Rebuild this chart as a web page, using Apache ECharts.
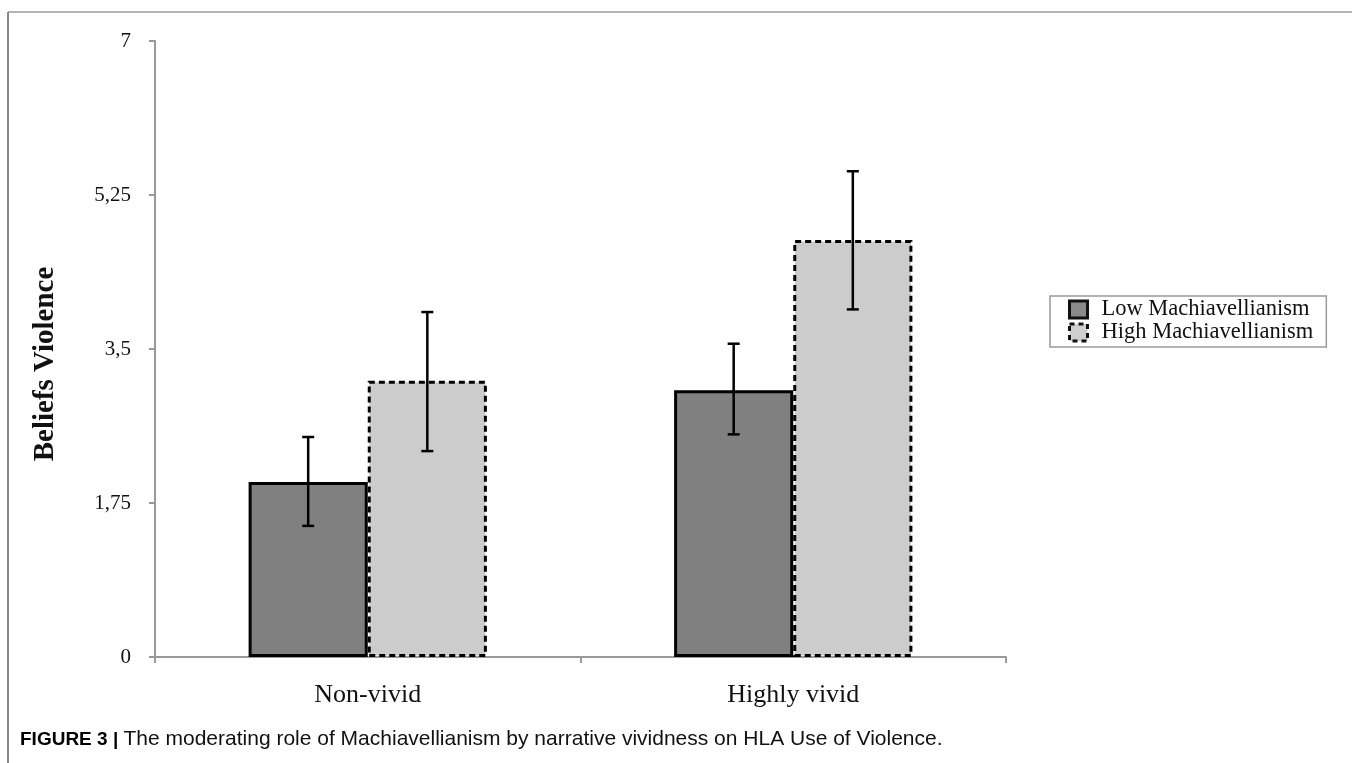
<!DOCTYPE html>
<html>
<head>
<meta charset="utf-8">
<script src="https://cdn.jsdelivr.net/npm/echarts@6/dist/echarts.min.js"></script>
<style>
html,body{margin:0;padding:0;background:#fff;}
#chart{width:1352px;height:763px;}
</style>
</head>
<body>
<div id="chart"></div>
<script>
const categories = ['Non-vivid', 'Highly vivid'];
const seriesNames = ['Low Machiavellianism', 'High Machiavellianism'];
const lowMach = [1.99, 3.03];
const highMach = [3.14, 4.74];
const lowMachErr = [[1.49, 2.50], [2.53, 3.56]];
const highMachErr = [[2.34, 3.92], [3.95, 5.52]];
const yTicks = [0, 1.75, 3.5, 5.25, 7];
const yTitle = 'Beliefs Violence';
const captionBold = 'FIGURE 3 | ';
const captionText = 'The moderating role of Machiavellianism by narrative vividness on HLA Use of Violence.';

const serif = '"Liberation Serif", "Times New Roman", serif';
const sans = '"Liberation Sans", Arial, sans-serif';
const GAP = 0.44;

function errSeries(errs, idx) {
  return {
    type: 'custom',
    name: seriesNames[idx] + ' err',
    silent: true,
    z: 10,
    data: errs.map((e, i) => [i, e[0], e[1]]),
    renderItem: function (params, api) {
      const band = api.size([1, 0])[0];
      const bw = band * (1 - GAP) / 2;
      const off = (idx === 0 ? -1 : 1) * bw / 2;
      const lo = api.coord([api.value(0), api.value(1)]);
      const hi = api.coord([api.value(0), api.value(2)]);
      const x = lo[0] + off;
      const cap = 6;
      const st = { stroke: '#000', lineWidth: 2.5 };
      return {
        type: 'group',
        children: [
          { type: 'line', shape: { x1: x, y1: lo[1], x2: x, y2: hi[1] }, style: st },
          { type: 'line', shape: { x1: x - cap, y1: lo[1], x2: x + cap, y2: lo[1] }, style: st },
          { type: 'line', shape: { x1: x - cap, y1: hi[1], x2: x + cap, y2: hi[1] }, style: st }
        ]
      };
    }
  };
}

const chart = echarts.init(document.getElementById('chart'));
chart.setOption({
  backgroundColor: '#fff',
  animation: false,
  grid: { left: 155, right: 346, top: 41, bottom: 106, containLabel: false },
  xAxis: {
    type: 'category',
    data: categories,
    axisLine: { lineStyle: { color: '#999', width: 2 } },
    axisTick: { show: true, length: 6, lineStyle: { color: '#999', width: 2 } },
    axisLabel: { color: '#111', fontFamily: serif, fontSize: 26, margin: 25 }
  },
  yAxis: {
    type: 'value',
    min: 0, max: 7, interval: 1.75,
    splitLine: { show: false },
    axisLine: { show: true, lineStyle: { color: '#999', width: 2 } },
    axisTick: { show: true, length: 6, lineStyle: { color: '#999', width: 2 } },
    axisLabel: {
      color: '#111', fontFamily: serif, fontSize: 21, margin: 24,
      formatter: v => String(v).replace('.', ',')
    }
  },
  legend: {
    orient: 'vertical',
    left: 1050, top: 296,
    itemWidth: 18, itemHeight: 17, itemGap: 0,
    padding: [2, 13, 3, 18],
    borderColor: '#9a9a9a', borderWidth: 1.5,
    textStyle: { color: '#111', fontFamily: serif, fontSize: 22.5, lineHeight: 22, padding: [0, 0, 0, 9] },
    data: [
      { name: seriesNames[0], icon: 'rect', itemStyle: { color: '#8a8a8a', borderColor: '#111', borderWidth: 3 } },
      { name: seriesNames[1], icon: 'rect', itemStyle: { color: '#cfcfcf', borderColor: '#111', borderWidth: 3, borderType: [5, 4] } }
    ]
  },
  series: [
    {
      type: 'bar', name: seriesNames[0], data: lowMach,
      barCategoryGap: (GAP * 100) + '%', barGap: '0%',
      itemStyle: { color: '#808080', borderColor: '#000', borderWidth: 3 }
    },
    {
      type: 'bar', name: seriesNames[1], data: highMach,
      itemStyle: { color: '#cccccc', borderColor: '#000', borderWidth: 3, borderType: [6, 4] }
    },
    errSeries(lowMachErr, 0),
    errSeries(highMachErr, 1)
  ],
  graphic: [
    { type: 'line', shape: { x1: 8, y1: 12, x2: 1352, y2: 12 }, style: { stroke: '#b4b4b4', lineWidth: 2 } },
    { type: 'line', shape: { x1: 8, y1: 12, x2: 8, y2: 763 }, style: { stroke: '#8a8a8a', lineWidth: 2 } },
    {
      type: 'text', x: 46, y: 364, rotation: Math.PI / 2,
      style: {
        text: yTitle, fill: '#111', fontFamily: serif, fontSize: 29, fontWeight: 'bold',
        align: 'center', verticalAlign: 'middle'
      }
    },
    {
      type: 'text', left: 20, top: 729,
      style: {
        rich: {
          b: { fontFamily: sans, fontSize: 19, fontWeight: 'bold', fill: '#000' },
          r: { fontFamily: sans, fontSize: 21, fill: '#111' }
        },
        text: '{b|' + captionBold + '}{r|' + captionText + '}'
      }
    }
  ]
});
</script>
</body>
</html>
